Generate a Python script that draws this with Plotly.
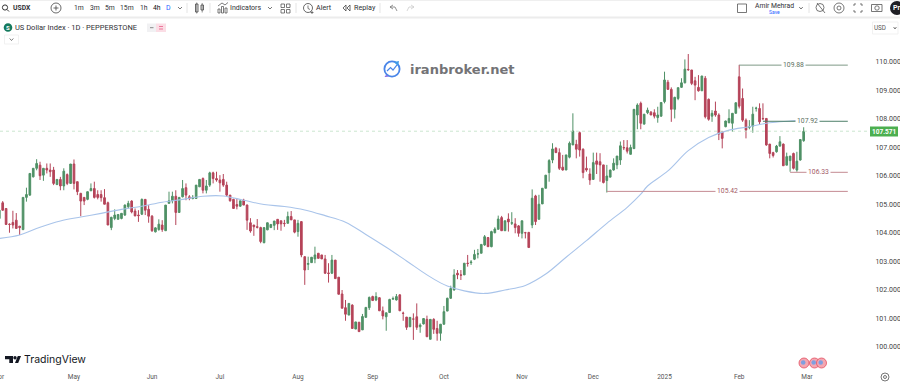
import plotly.graph_objects as go

W, H = 900, 383

opens = [
104.51,105.06,104.86,104.31,104.37,104.45,104.24,104.12,105.25,105.33,
105.97,106.27,106.38,106.03,106.27,106.21,106.21,105.70,105.88,105.65,
106.05,105.74,106.42,105.80,105.39,105.25,105.18,105.48,105.56,105.35,
105.35,105.24,105.06,104.19,104.51,104.48,104.51,104.63,104.92,105.12,
104.77,104.63,104.66,105.18,104.83,104.59,104.04,104.12,104.28,104.08,
105.04,105.13,105.29,104.72,105.27,105.59,105.27,105.21,105.21,105.62,
105.91,105.50,105.68,106.11,105.91,105.86,105.88,105.68,105.33,105.18,
105.00,104.94,105.15,104.98,104.36,104.28,104.22,104.19,103.66,104.11,
104.19,104.27,104.48,104.43,104.34,104.34,104.58,104.46,104.05,104.40,
103.17,102.90,102.96,103.09,103.29,103.23,103.09,102.60,102.59,103.05,
102.45,101.86,101.38,101.12,101.47,100.63,100.87,100.60,101.04,101.38,
101.77,101.65,101.73,101.27,101.06,101.21,101.68,101.65,101.83,101.19,
101.05,100.71,100.98,101.06,100.71,100.81,100.97,100.27,100.97,100.65,
100.48,100.80,101.26,101.71,102.00,102.59,102.53,102.53,102.94,102.96,
103.08,103.26,103.29,103.58,103.84,103.52,104.01,104.13,104.54,104.08,
104.49,104.34,104.32,104.25,103.99,104.01,104.02,104.28,105.30,104.48,
105.02,105.57,106.12,106.56,106.97,106.82,106.31,106.21,106.66,107.09,
107.11,107.52,106.94,106.27,106.07,105.88,106.53,106.50,106.39,105.84,
105.96,106.21,106.39,106.56,107.00,106.99,106.76,106.96,108.14,108.55,
107.82,108.22,108.24,108.22,108.05,108.10,108.61,109.29,109.04,108.34,
108.72,109.11,109.27,109.74,109.72,109.34,109.11,108.99,109.43,108.69,
108.10,108.28,108.14,107.55,107.73,107.87,107.85,108.20,109.48,108.72,
107.96,107.71,107.75,108.37,108.37,108.02,108.02,107.12,106.82,106.85,
107.05,107.12,106.38,106.54,106.79,106.21,106.56,107.24]

highs = [
104.86,105.12,104.86,104.34,104.78,104.70,104.24,105.25,105.59,106.09,
106.27,106.59,106.50,106.27,106.44,106.44,106.32,105.88,105.97,106.27,
106.09,106.42,106.58,105.80,105.41,105.25,105.45,105.74,105.80,105.50,
105.50,105.54,105.10,104.57,104.83,104.65,104.69,105.00,105.13,105.15,
104.86,104.80,105.21,105.18,104.98,104.63,104.20,104.48,104.45,104.98,
105.45,105.45,105.50,105.25,105.86,105.74,105.33,105.33,105.68,105.88,
105.95,105.86,106.15,106.15,106.15,106.03,106.07,105.80,105.33,105.20,
105.21,105.13,105.20,105.00,104.52,104.28,104.49,104.22,104.19,104.36,
104.30,104.42,104.48,104.43,104.46,104.75,104.77,104.46,104.46,104.40,
103.17,103.17,103.15,103.52,103.29,103.23,103.23,102.94,103.23,103.05,
102.45,102.00,101.65,101.53,101.50,100.88,100.87,101.16,101.39,101.77,
101.80,101.92,101.75,101.42,101.20,101.69,101.77,101.86,101.85,101.24,
101.05,101.05,101.18,101.53,100.83,101.00,101.10,100.97,101.01,100.92,
100.80,101.44,101.73,102.15,102.73,102.70,102.70,102.94,103.23,103.05,
103.41,103.44,103.60,103.93,103.86,104.08,104.20,104.61,104.60,104.43,
104.69,104.73,104.52,104.28,104.43,104.04,104.04,105.53,105.34,105.34,
105.57,106.03,106.59,107.15,107.02,106.97,106.74,106.74,107.21,108.20,
107.27,107.56,106.97,106.68,106.27,106.82,106.82,106.80,106.39,106.39,
106.22,106.62,106.70,107.21,107.26,107.26,107.10,108.34,108.55,108.61,
108.17,108.40,108.28,108.34,108.43,108.58,109.66,109.37,109.11,108.78,
109.10,109.43,110.09,110.28,109.72,109.48,109.54,109.51,109.51,108.72,
108.31,108.61,108.20,107.55,107.94,108.34,108.20,108.58,109.90,109.07,
108.02,107.96,108.43,108.43,108.55,108.55,108.02,107.12,106.85,107.09,
107.40,107.14,106.82,106.70,106.82,106.85,107.28,107.71]

lows = [
104.45,104.78,104.28,104.01,104.16,104.16,103.93,104.10,105.10,105.30,
105.95,106.20,105.86,105.83,106.09,105.97,105.68,105.68,105.50,105.50,
105.68,105.72,105.53,105.33,104.59,104.98,105.15,105.48,105.21,105.18,
105.10,105.01,104.28,104.10,104.45,104.48,104.48,104.60,104.86,104.69,
104.59,104.39,104.63,104.63,104.36,104.04,104.02,104.08,104.04,104.08,
105.04,105.04,104.28,104.72,105.25,105.15,105.15,105.18,105.21,105.62,
105.39,105.39,105.62,105.74,105.80,105.45,105.62,105.27,105.10,104.86,
104.83,104.92,104.98,104.11,104.01,103.90,104.16,103.64,103.64,104.10,
104.19,104.10,104.11,104.08,104.22,104.34,104.46,103.99,103.87,103.15,
102.18,102.70,102.96,102.94,103.11,103.09,102.56,102.26,102.56,102.40,
101.85,101.36,100.92,101.12,100.65,100.63,100.53,100.60,101.04,101.30,
101.63,101.61,101.27,100.97,100.57,101.21,101.65,101.63,101.27,100.92,
100.60,100.71,100.25,100.60,100.50,100.79,100.36,100.27,100.46,100.22,
100.22,100.78,101.26,101.69,101.98,102.38,102.35,102.53,102.82,102.88,
103.05,103.11,103.29,103.55,103.52,103.50,103.99,104.13,104.08,104.08,
104.05,104.28,103.99,103.87,103.81,103.81,103.49,104.17,104.28,104.48,
105.02,105.57,105.80,106.45,106.82,106.21,106.19,106.21,106.62,107.09,
106.62,106.68,105.92,106.15,105.69,105.88,106.07,105.80,105.74,105.42,
105.96,106.19,106.24,106.39,106.91,106.79,106.76,106.96,107.64,107.64,
107.82,108.17,108.14,108.02,107.87,108.08,108.55,109.02,107.90,108.02,
108.66,109.10,109.25,109.69,109.19,108.66,108.96,108.99,108.02,107.94,
107.90,108.08,107.26,106.97,107.71,107.85,107.55,108.20,108.37,107.90,
107.32,107.64,107.52,108.26,107.82,107.96,107.06,106.62,106.65,106.82,
107.03,106.36,106.38,106.15,106.23,106.15,106.54,107.20]

closes = [
104.80,104.80,104.30,104.30,104.28,104.16,104.19,105.25,105.35,106.09,
106.27,106.44,106.01,106.27,106.21,106.15,105.74,105.88,105.65,106.17,
105.74,106.42,105.74,105.45,105.12,105.12,105.45,105.56,105.25,105.25,
105.24,105.01,104.28,104.55,104.63,104.65,104.69,104.98,105.04,104.74,
104.60,104.61,105.18,104.80,104.59,104.08,104.18,104.31,104.12,104.98,
105.13,105.29,104.72,105.25,105.56,105.33,105.21,105.25,105.68,105.88,
105.50,105.65,106.11,105.91,105.86,105.76,105.68,105.33,105.13,104.86,
104.94,105.13,104.98,104.45,104.07,104.22,104.20,103.70,104.19,104.36,
104.30,104.42,104.32,104.32,104.33,104.58,104.46,104.03,104.34,103.23,
102.70,102.93,103.15,103.23,103.11,103.09,102.59,102.58,103.05,102.40,
101.85,101.36,101.15,101.53,100.65,100.88,100.54,101.07,101.39,101.74,
101.63,101.77,101.27,101.09,101.20,101.67,101.70,101.77,101.27,101.18,
100.69,101.04,100.98,100.69,100.77,101.00,100.36,100.97,100.62,100.48,
100.80,101.24,101.71,102.05,102.53,102.53,102.52,102.94,102.93,102.98,
103.25,103.27,103.60,103.87,103.52,104.05,104.14,104.49,104.08,104.43,
104.39,104.36,104.19,103.99,104.43,104.01,103.49,105.22,104.40,105.01,
105.57,106.03,106.54,106.95,106.82,106.27,106.21,106.74,107.15,107.58,
106.94,106.91,106.12,106.21,105.86,106.47,106.41,106.39,105.77,106.00,
106.21,106.45,106.70,107.06,106.99,106.87,107.00,108.34,108.49,107.85,
108.17,108.31,108.14,108.10,108.14,108.58,109.37,109.04,108.34,108.76,
109.10,109.27,109.75,109.73,109.25,109.19,108.99,109.51,108.08,107.99,
108.20,108.14,107.47,107.32,107.93,108.02,108.20,108.57,108.45,107.96,
107.61,107.72,108.17,108.38,107.90,108.01,107.09,106.79,106.72,107.05,
107.20,106.36,106.68,106.70,106.27,106.52,107.28,107.57]

bar_index = list(range(len(opens)))

ma_index = [0,6,12,18,24,30,36,42,48,54,60,66,72,78,84,90,96,102,108,114,120,126,
            130,132,137,143,149,155,161,167,173,179,185,189,191,197,203,209,215,221,227,233,237]
ma_values = [103.81,103.93,104.20,104.42,104.56,104.69,104.83,104.94,105.08,105.18,105.29,105.30,
             105.15,105.00,104.93,104.81,104.61,104.38,103.95,103.50,103.02,102.53,
             102.25,102.14,101.97,101.88,102.00,102.16,102.56,103.15,103.73,104.34,104.90,
             105.36,105.65,106.18,106.89,107.35,107.61,107.73,107.87,107.93,107.97]

tick_index = [22,45,65,88,110,131,154,175,196,218,238]
tick_labels = ["May","Jun","Jul","Aug","Sep","Oct","Nov","Dec","2025","Feb","Mar"]
price_ticks = [100,101,102,103,104,105,106,107,108,109,110]
last_price = 107.571

level_names = ["109.88","107.92","106.33","105.42"]
level_values = [109.89,107.92,106.13,105.46]
level_start = [218,225,233,179]
level_end = [250,250,250,250]
level_label_at = [234,238,241.5,214.6]
level_colors = ["#7f9a86","#4d7f68","#c48a92","#c48a92"]

UP, DOWN = "#4f9166", "#b54459"
TXT = "#2f2f35"

def px(x): return x / W
def py(y): return 1 - y / H

PLOT_R, PLOT_T, PLOT_B = 868, 18, 368
SLOPE, X0 = 3.394, -0.7
xr = [(0 - X0) / SLOPE, (PLOT_R - X0) / SLOPE]
yr = [110 - (PLOT_B - 62) / 28.5, 110 - (PLOT_T - 62) / 28.5]

fig = go.Figure()
fig.add_trace(go.Scatter(x=ma_index, y=ma_values, mode="lines", line=dict(color="#a9c4ea", width=1.1, shape="spline"), hoverinfo="skip"))
fig.add_trace(go.Candlestick(x=bar_index, open=opens, high=highs, low=lows, close=closes,
    increasing=dict(line=dict(color=UP, width=1), fillcolor=UP),
    decreasing=dict(line=dict(color=DOWN, width=1), fillcolor=DOWN),
    whiskerwidth=0))
for v, a, b, c in zip(level_values, level_start, level_end, level_colors):
    fig.add_trace(go.Scatter(x=[a, b], y=[v, v], mode="lines", line=dict(color=c, width=1), hoverinfo="skip"))
fig.add_trace(go.Scatter(x=[xr[0], xr[1]], y=[last_price, last_price], mode="lines",
                         line=dict(color="#bfe0c4", width=0.8, dash="dot"), hoverinfo="skip"))

ann = []
def text(x, y, s, size=8, color=TXT, anchor="center", family="Roboto", bold=False):
    if bold: s = "<b>" + s + "</b>"
    ann.append(dict(xref="paper", yref="paper", x=px(x), y=py(y), text=s, showarrow=False,
                    xanchor=anchor, yanchor="middle", font=dict(size=size, color=color, family=family),
                    borderpad=0, borderwidth=0))

shapes = []
def rect(x0, y0, x1, y1, fill=None, line=None, w=1):
    shapes.append(dict(type="rect", xref="paper", yref="paper", x0=px(x0), y0=py(y0), x1=px(x1), y1=py(y1),
                       fillcolor=fill or "rgba(0,0,0,0)", line=dict(color=line or "rgba(0,0,0,0)", width=w if line else 0)))
def circ(cx, cy, r, fill=None, line=None, w=1):
    shapes.append(dict(type="circle", xref="paper", yref="paper", x0=px(cx-r), y0=py(cy-r), x1=px(cx+r), y1=py(cy+r),
                       fillcolor=fill or "rgba(0,0,0,0)", line=dict(color=line or "rgba(0,0,0,0)", width=w if line else 0)))
def poly(pts, line="#444", w=1, fill=None, close=False):
    d = "M " + " L ".join(f"{px(a):.5f} {py(b):.5f}" for a, b in pts) + (" Z" if close else "")
    shapes.append(dict(type="path", xref="paper", yref="paper", path=d, fillcolor=fill or "rgba(0,0,0,0)",
                       line=dict(color=line or "rgba(0,0,0,0)", width=w if line else 0)))
def chev(x, y, s=2, c="#555"):
    poly([(x-s, y-1), (x, y+1), (x+s, y-1)], c, 0.8)

# toolbar chrome
rect(0, 0, 900, 1, fill="#efefef")
rect(0, 16.5, 900, 18.5, fill="#ececec")
circ(5, 7.5, 2.6, line="#333", w=1); poly([(7, 9.5), (9, 11.5)], "#333", 1)
text(13, 8, "USDX", 6.8, bold=True, anchor="left")
circ(56, 8, 5, line="#444", w=0.8); poly([(53.5, 8), (58.5, 8)], "#444", 0.8); poly([(56, 5.5), (56, 10.5)], "#444", 0.8)
for x, s in zip([79, 94.5, 110, 127, 143.5, 156.5], ["1m", "3m", "5m", "15m", "1h", "4h"]):
    text(x, 8, s, 6.8, color=TXT if s != "4h" else "#111")
text(168.5, 8, "D", 7, color="#2962ff")
chev(180, 8)
for x in [187, 210, 296, 380, 809]:
    poly([(x, 3), (x, 13)], "#e4e4e4", 1)
rect(195.5, 4, 198, 12, line="#444", w=0.8); rect(201, 5, 203.5, 10, line="#444", w=0.8)
poly([(196.7, 2.5), (196.7, 13.5)], "#444", 0.6); poly([(202.2, 3), (202.2, 12.5)], "#444", 0.6)
rect(218, 9, 220, 13, line="#444", w=0.7); rect(221.5, 6.5, 223.5, 13, line="#444", w=0.7); rect(225, 8, 227, 13, line="#444", w=0.7)
poly([(218, 6), (222, 3), (225, 5), (228, 2.5)], "#444", 0.7)
text(230, 8, "Indicators", 7, anchor="left")
chev(270, 8)
for a, b in [(281, 4), (286.5, 4), (281, 9.5), (286.5, 9.5)]:
    rect(a, b, a + 3.5, b + 3.5, line="#444", w=0.7)
circ(308, 8, 4.5, line="#444", w=0.8); poly([(308, 5.5), (308, 8.5), (310, 9.5)], "#444", 0.7)
poly([(312, 11), (312, 14)], "#444", 0.7); poly([(310.5, 12.5), (313.5, 12.5)], "#444", 0.7)
text(316, 8, "Alert", 7.2, anchor="left")
poly([(346, 5), (343, 8), (346, 11)], "#444", 0.8, close=True); poly([(350, 5), (347, 8), (350, 11)], "#444", 0.8, close=True)
text(354, 8, "Replay", 7.2, anchor="left")
poly([(390, 7), (393, 5)], "#777", 0.8); poly([(390, 7), (393, 9)], "#777", 0.8); poly([(390, 7), (395, 7), (397, 11)], "#777", 0.8)
poly([(414, 7), (411, 5)], "#ccc", 0.8); poly([(414, 7), (411, 9)], "#ccc", 0.8); poly([(414, 7), (409, 7), (407, 11)], "#ccc", 0.8)

rect(737.5, 4, 746.5, 12.5, line="#555", w=0.8)
text(774.5, 5.5, "Amir Mehrad", 6.8)
text(774, 12, "Save", 5, color="#2962ff")
chev(801, 8, 1.8)
circ(820, 7.5, 4, line="#555", w=0.8); poly([(817, 3), (825, 13)], "#555", 0.8)
circ(839, 8, 5, line="#555", w=0.8); circ(839, 8, 2, line="#555", w=0.8)
for (a, b), (c, d), (e, f) in [((854, 6), (854, 4), (856, 4)), ((860, 4), (862, 4), (862, 6)),
                               ((854, 10), (854, 12), (856, 12)), ((860, 12), (862, 12), (862, 10))]:
    poly([(a, b), (c, d), (e, f)], "#555", 0.8)
rect(871.5, 4.5, 882, 11.5, line="#555", w=0.8); circ(877, 8, 2.2, line="#555", w=0.8)
circ(897, 8, 7, fill="#1e1e24")
text(893, 8, "Pr", 7, color="#fff", anchor="left", bold=True)

# legend row
circ(8, 27.5, 4.3, fill="#157a5e")
text(8, 27.5, "S", 6, color="#fff", bold=True)
text(15, 27.5, "US Dollar Index · 1D · PEPPERSTONE", 7.5, anchor="left")
rect(147, 23.5, 156, 32, fill="#f1f1f3"); rect(156, 23.5, 166, 32, fill="#fbdde5")
poly([(150, 27.7), (153.5, 27.7)], "#888", 1)
poly([(159, 26.5), (163, 26.5)], "#e85a86", 0.8); poly([(159, 29), (163, 29)], "#e85a86", 0.8)
rect(4.5, 35, 18.5, 44, line="#ededed", w=0.8)
chev(11.5, 39.5, 1.8)
rect(872.5, 22, 898, 34, line="#ededed", w=0.8)
text(874, 27.8, "USD", 6.3, color="#555", anchor="left")
chev(895, 28, 1.4)

# watermark
circ(392, 69, 7.6, line="#4a86e8", w=1.8)
poly([(387, 71), (390.5, 67.5), (393, 70), (397, 65)], "#4a86e8", 1.2)
poly([(394, 62), (399, 61), (398, 66)], None, 0, fill="#3f9be8", close=True)
poly([(386, 75), (384.5, 77), (389, 76.5)], None, 0, fill="#7a5be0", close=True)
text(410, 69.5, "iranbroker.net", 13, color="#737376", anchor="left", family="DejaVu Sans", bold=True)

# TradingView mark
poly([(5, 356), (13, 356), (13, 363), (9.3, 363), (9.3, 359.3), (5, 359.3)], None, 0, fill="#131722", close=True)
circ(15, 357.8, 1.7, fill="#131722")
poly([(15, 363), (17.8, 356), (21, 356), (18.2, 363)], None, 0, fill="#131722", close=True)
text(24, 359.5, "TradingView", 10.5, color="#131722", anchor="left", family="Inter")

# event flags
for x in [804, 814.5, 821.5]:
    circ(x, 363, 5, fill="#f4a7b1", line="#e34f61", w=0.8)
    circ(x - 0.8, 362.5, 2.3, fill="#7f9fe0")

# gear
circ(885, 377, 4, line="#555", w=0.8); circ(885, 377, 1.5, line="#555", w=0.8)

# last price tag
rect(870, 126.5, 898, 136.5, fill="#4caf50")
text(884, 131.5, "107.571", 6.5, color="#fff", bold=True, family="Roboto")

# month label partly off canvas on the left, as in the reference
text(-1, 377, "Apr", 6.5, color="#555")

for name, v, at, c in zip(level_names, level_values, level_label_at, level_colors):
    ann.append(dict(xref="x", yref="y", x=at, y=v, text=name, showarrow=False, bgcolor="#ffffff",
                    font=dict(size=6.8, family="Roboto", color="#5c6f62" if c != "#c48a92" else "#a35a66"),
                    borderpad=1))

fig.update_layout(
    width=W, height=H, autosize=False, showlegend=False,
    margin=dict(l=0, r=0, t=0, b=0, pad=0),
    paper_bgcolor="#ffffff", plot_bgcolor="#ffffff",
    annotations=ann, shapes=shapes,
    xaxis=dict(domain=[0, PLOT_R / W], range=xr, rangeslider=dict(visible=False), showgrid=False, zeroline=False,
               tickmode="array", tickvals=tick_index, ticktext=tick_labels,
               tickfont=dict(size=6.5, family="Roboto", color="#555"), ticks="outside", ticklen=2,
               tickcolor="rgba(0,0,0,0)", showline=False, anchor="y"),
    yaxis=dict(domain=[1 - PLOT_B / H, 1 - PLOT_T / H], range=yr, side="right", showgrid=False, zeroline=False,
               tickmode="array", tickvals=price_ticks, ticktext=[f"{v:.3f}" for v in price_ticks],
               tickfont=dict(size=7, family="Roboto", color="#444"), ticks="outside", ticklen=5,
               tickcolor="rgba(0,0,0,0)", showline=False, anchor="x"),
)

fig.write_html("out.html", config=dict(displayModeBar=False),
               post_script="document.body.style.margin='0';document.documentElement.style.overflow='hidden';")
